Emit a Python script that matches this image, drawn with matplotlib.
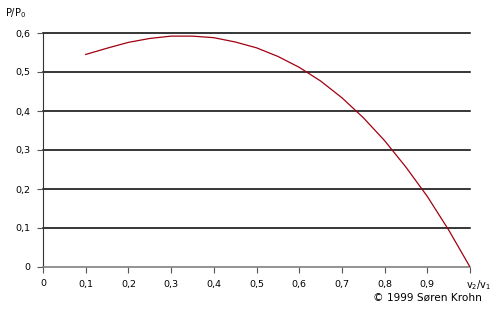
import matplotlib.pyplot as plt
import numpy as np

# v2/v1 ratio and power fraction P/P0
ratio = [0.1, 0.15, 0.2, 0.25, 0.3, 0.35, 0.4, 0.45, 0.5, 0.55,
         0.6, 0.65, 0.7, 0.75, 0.8, 0.85, 0.9, 0.95, 1.0]
power = [0.545, 0.561, 0.576, 0.586, 0.592, 0.592, 0.588, 0.577, 0.562, 0.540,
         0.512, 0.477, 0.434, 0.383, 0.324, 0.256, 0.181, 0.095, 0.0]
x_ticks = [0, 0.1, 0.2, 0.3, 0.4, 0.5, 0.6, 0.7, 0.8, 0.9, 1.0]
x_labels = ['0', '0,1', '0,2', '0,3', '0,4', '0,5', '0,6', '0,7', '0,8', '0,9', '']
y_ticks = [0, 0.1, 0.2, 0.3, 0.4, 0.5, 0.6]
y_labels = ['0', '0,1', '0,2', '0,3', '0,4', '0,5', '0,6']

plt.rcParams['mathtext.fontset'] = 'dejavusans'
fig = plt.figure(figsize=(4.91, 3.15), dpi=100)
ax = fig.add_axes([43/491, 1-267/315, 427/491, 234/315])

for y in y_ticks[1:]:
    ax.axhline(y, color='black', lw=1.1, zorder=1, clip_on=False)
ax.plot(ratio, power, color='#a00010', lw=0.9, zorder=3)

ax.set_xlim(0, 1)
ax.set_ylim(0, 0.6)
ax.set_xticks(x_ticks)
ax.set_xticklabels(x_labels)
ax.set_yticks(y_ticks)
ax.set_yticklabels(y_labels)
ax.tick_params(labelsize=6.8, length=4, width=0.8, color='#555555', pad=5)

for s in ['top', 'right']:
    ax.spines[s].set_visible(False)
ax.spines['left'].set_color('#333333')
ax.spines['bottom'].set_color('#808080')
ax.spines['bottom'].set_linewidth(1.2)

fig.text(16/491, 1-13/315, 'P/P$_0$', fontsize=7, ha='center', va='center')
fig.text(479/491, 1-285/315, 'v$_2$/v$_1$', fontsize=7, ha='center', va='center')
fig.text(427/491, 1-298/315, '\u00a9 1999 S\u00f8ren Krohn', fontsize=7.6, ha='center', va='center')

plt.savefig('out.png', dpi=100)
